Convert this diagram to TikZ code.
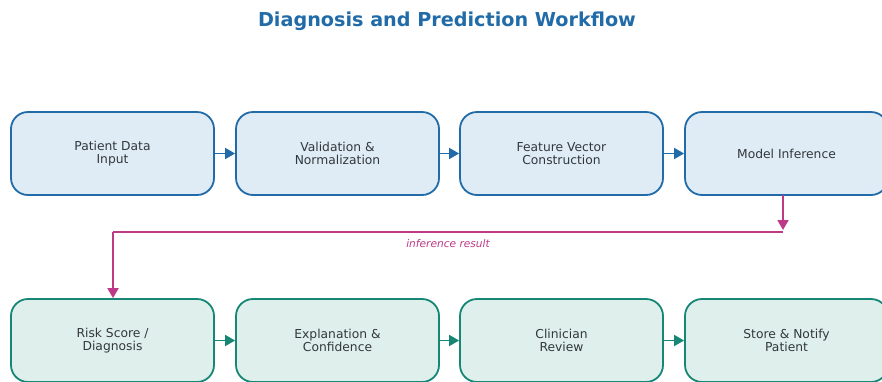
\documentclass[tikz,border=0pt]{standalone}
\usepackage{fontspec}
\setmainfont{DejaVu Sans}
\definecolor{stepblue}{RGB}{33,108,168}
\definecolor{stepbluefill}{RGB}{223,236,245}
\definecolor{stepteal}{RGB}{22,134,118}
\definecolor{steptealfill}{RGB}{223,240,236}
\definecolor{flowpink}{RGB}{190,58,136}
\definecolor{boxtext}{RGB}{50,55,60}
\usetikzlibrary{arrows.meta}

\tikzset{
  inbox/.style={draw=stepblue,fill=stepbluefill,line width=1.8pt,rounded corners=17pt,
    minimum width=203pt,minimum height=83pt,align=center,text=boxtext,font=\fontsize{12.3}{12.8}\selectfont},
  outbox/.style={inbox,draw=stepteal,fill=steptealfill},
}

\begin{document}
\begin{tikzpicture}[x=1pt,y=-1pt,>={Triangle[length=10pt,width=11pt]}]
  \clip (0,0) rectangle (882,381);
  \fill[white] (0,0) rectangle (882,381);

  \node (title) at (447,21) {\fontsize{19.2}{20}\selectfont\bfseries\color{stepblue}Diagnosis and Prediction Workflow};

  \node[inbox] (pdi) at (112.5,153.5) {Patient Data\\Input};
  \node[inbox] (vn)  at (337.5,153.5) {Validation \&\\Normalization};
  \node[inbox] (fvc) at (561.5,153.5) {Feature Vector\\Construction};
  \node[inbox] (mi)  at (786.5,153.5) {Model Inference};

  \node[outbox] (rsd) at (112.5,340.5) {Risk Score /\\Diagnosis};
  \node[outbox] (ec)  at (337.5,340.5) {Explanation \&\\Confidence};
  \node[outbox] (cr)  at (561.5,340.5) {Clinician\\Review};
  \node[outbox] (sn)  at (786.5,340.5) {Store \& Notify\\Patient};

  \draw [->,stepblue,line width=1.8pt] (pdi) -- (vn);
  \draw [->,stepblue,line width=1.8pt] (vn) -- (fvc);
  \draw [->,stepblue,line width=1.8pt] (fvc) -- (mi);

  \draw [->,stepteal,line width=1.8pt] (rsd) -- (ec);
  \draw [->,stepteal,line width=1.8pt] (ec) -- (cr);
  \draw [->,stepteal,line width=1.8pt] (cr) -- (sn);

  \coordinate (mi-drop) at (783,230);
  \coordinate (rsd-drop) at (113,232);
  \draw [->,flowpink,line width=1.8pt] (783,195) -- (mi-drop);
  \draw [flowpink,line width=1.8pt] (mi-drop |- rsd-drop) -- (rsd-drop)
   node [midway,below=3pt,font=\fontsize{10.6}{11}\selectfont\itshape] {inference result};
  \draw [->,flowpink,line width=1.8pt] (rsd-drop) -- (rsd.north -| rsd-drop);
\end{tikzpicture}
\end{document}
